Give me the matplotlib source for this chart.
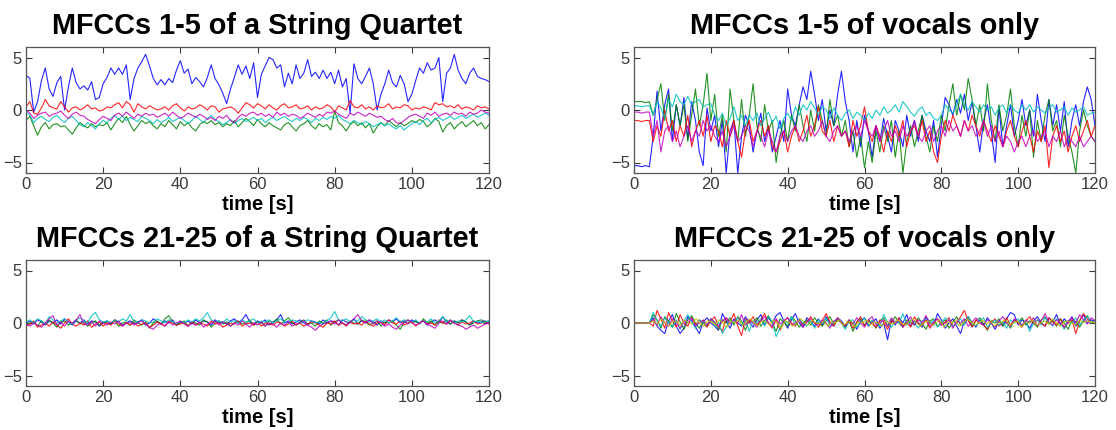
import numpy as np
import matplotlib
matplotlib.use("Agg")
import matplotlib.pyplot as plt

plt.rcParams['font.family'] = ['Liberation Sans', 'DejaVu Sans']

# ---------------- data (1 value per second, t = 0..120) ----------------
titles = ["MFCCs 1-5 of a String Quartet", "MFCCs 1-5 of vocals only",
          "MFCCs 21-25 of a String Quartet", "MFCCs 21-25 of vocals only"]
xlabel = "time [s]"
xticks = [0, 20, 40, 60, 80, 100, 120]
yticks = [-5, 0, 5]

sq15_blue = [3.3,3.0,-0.2,0.8,2.8,4.0,2.0,1.3,2.6,3.2,0.0,2.2,4.0,2.6,2.0,2.3,1.9,2.7,1.0,1.2,
             2.5,3.1,4.0,3.4,4.0,3.4,4.3,1.0,3.0,4.0,4.6,5.3,4.2,3.0,2.4,2.9,2.4,3.0,2.6,3.8,
             4.7,3.5,3.9,2.5,3.1,2.7,2.2,3.1,4.3,3.0,2.4,1.6,0.6,2.0,3.1,4.3,3.4,4.2,3.0,4.5,
             1.2,3.4,4.2,5.0,4.8,4.0,4.3,2.2,3.5,2.5,4.3,3.0,3.5,4.8,3.2,3.6,3.0,3.8,3.0,3.6,
             2.5,3.8,2.2,3.0,-0.3,4.4,3.0,2.5,3.2,4.0,2.5,0.0,1.5,2.5,3.8,2.6,2.2,3.3,2.5,0.8,
             1.5,2.8,4.0,3.5,4.5,3.8,4.0,5.0,0.8,3.5,4.0,5.3,3.8,3.0,2.5,3.5,4.0,3.2,3.0,2.9,2.7]
sq15_green = [-1.0,-0.6,-1.5,-2.4,-1.6,-1.2,-1.8,-1.4,-1.3,-1.6,-1.5,-1.9,-2.3,-1.7,-1.2,-1.5,-1.7,-1.3,-1.6,-1.4,
              -1.5,-1.2,-1.9,-1.3,-0.8,-1.2,-0.6,-1.4,-2.0,-1.5,-1.0,-1.3,-1.1,-1.5,-1.8,-1.3,-1.6,-1.0,-1.4,-1.8,
              -1.1,-1.5,-1.2,-1.7,-2.0,-1.4,-1.1,-1.3,-1.0,-1.4,-1.2,-1.6,-1.3,-1.5,-1.0,-1.6,-1.2,-0.8,-1.1,-1.5,
              -0.9,-1.3,-1.6,-1.2,-1.5,-1.7,-1.9,-1.4,-1.2,-1.6,-2.0,-1.5,-1.3,-1.0,-1.5,-1.8,-1.3,-1.6,-1.4,-1.9,
              -0.1,-1.2,-1.5,-2.0,-1.4,-1.1,-1.5,-1.2,-1.7,-1.3,-2.2,-1.6,-1.2,-1.5,-1.0,-1.3,-1.6,-1.2,-1.5,-1.3,
              -1.0,-1.2,-0.9,-1.1,-1.6,-1.3,-0.8,-1.1,-2.1,-1.5,-1.2,-1.8,-1.4,-1.1,-1.6,-1.3,-1.0,-1.5,-1.2,-1.8,-1.4]
sq15_red = [0.3,0.8,-0.3,-0.4,0.2,1.0,0.4,0.2,0.1,0.8,0.3,-0.2,0.2,0.3,0.0,0.2,0.5,0.1,0.2,-0.1,
            0.0,0.3,0.2,0.5,0.7,0.2,0.8,0.5,-0.2,0.6,0.3,0.1,0.4,0.2,0.0,0.1,0.3,0.0,0.4,0.6,
            0.2,-0.1,0.3,0.1,0.2,0.5,0.3,0.0,0.4,0.3,-0.2,0.1,0.2,0.3,0.1,-0.3,0.2,0.7,0.5,0.2,
            0.6,0.4,0.1,0.5,0.2,0.0,0.4,0.6,0.2,0.3,0.5,0.1,0.2,0.4,0.0,0.3,0.1,0.2,0.5,0.3,
            -0.2,0.4,0.2,0.0,0.9,0.3,0.2,0.5,0.1,0.3,0.0,0.4,0.2,0.3,0.6,0.1,0.3,0.2,0.5,0.4,
            0.0,0.2,0.1,0.3,0.2,0.0,0.7,0.5,0.6,0.3,0.4,0.2,0.5,0.1,0.3,0.2,0.0,0.4,0.2,0.3,0.1]
sq15_cyan = [-0.2,-0.5,-1.2,-0.8,-0.6,-0.9,-1.1,-0.7,-0.5,-0.9,-1.2,-0.8,-0.6,-1.0,-1.4,-1.6,-1.2,-1.5,-1.8,-1.3,
             -1.0,-1.2,-0.8,-0.5,-0.9,-0.6,-1.0,-0.7,-0.9,-1.1,-0.6,-0.8,-1.0,-1.3,-0.9,-1.2,-1.0,-0.7,-1.1,-0.9,
             -0.7,-1.0,-1.3,-1.0,-0.6,-0.9,-1.2,-0.8,-0.5,-0.9,-1.1,-1.4,-1.2,-0.9,-1.3,-1.0,-0.8,-1.1,-0.9,-0.7,
             -1.0,-0.8,-1.2,-0.9,-0.7,-1.0,-0.8,-0.6,-0.9,-1.1,-0.8,-1.0,-0.7,-0.9,-1.2,-0.8,-1.0,-0.7,-0.9,-0.6,
             -0.8,-0.5,-0.9,-1.1,-1.3,-1.0,-1.2,-1.4,-1.1,-1.3,-1.6,-1.4,-1.2,-1.5,-1.3,-1.6,-1.8,-1.5,-1.9,-1.6,
             -1.3,-1.1,-1.4,-1.0,-0.8,-1.2,-0.9,-0.7,-1.0,-0.8,-0.6,-0.9,-0.7,-0.5,-0.8,-0.6,-0.4,-0.7,-0.5,-0.3,-0.5]
sq15_magenta = [0.0,-0.3,-0.8,-0.5,-0.3,-0.2,-0.6,-0.4,-0.3,-0.1,-0.5,-0.8,-0.4,-0.2,-0.5,-0.6,-0.9,-1.1,-1.3,-0.9,
                -0.6,-0.8,-1.0,-0.5,-0.3,-0.6,-0.2,-0.5,-0.8,-0.4,-0.6,-0.3,-0.5,-0.4,-0.7,-0.5,-0.3,-0.6,-0.2,-0.5,
                -0.8,-0.6,-0.3,-0.5,-0.7,-0.4,-0.6,-0.9,-0.7,-1.0,-0.6,-0.8,-0.5,-1.0,-1.2,-0.7,-0.4,-0.6,-0.3,-0.2,
                -0.5,-0.3,-0.6,-0.4,-0.7,-0.2,-0.5,-0.3,-0.6,-0.4,-0.5,-0.8,-0.6,-0.3,-0.5,-0.7,-0.4,-0.6,-0.2,-0.3,
                -0.1,-0.4,-0.6,-0.8,-0.3,-0.5,-0.2,-0.4,-0.6,-0.3,-0.5,-0.7,-0.6,-0.9,-1.1,-0.8,-1.2,-1.3,-1.0,-0.7,
                -0.5,-0.4,-0.6,-0.8,-0.3,-0.5,-0.2,-0.6,-0.4,-0.3,-0.5,-0.2,-0.4,-0.3,-0.6,-0.2,-0.4,-0.3,0.0,-0.2,-0.3]

vo15_blue = [-5.3,-5.3,-5.4,-5.3,-5.4,-2.5,1.8,-2.0,0.5,2.0,-3.0,0.5,-1.5,1.2,-2.8,0.8,-1.0,-4.0,-5.3,0.2,
             -2.0,-0.5,-3.5,-1.0,-6.0,-2.0,-1.0,-6.0,-2.5,-0.5,-1.5,-4.0,-2.0,-0.3,-3.0,-1.5,-4.0,-2.5,-1.0,-3.0,
             2.0,-0.5,-1.5,0.5,2.2,1.0,3.7,1.5,-1.0,1.0,-2.0,0.0,-1.5,1.5,3.7,0.8,-1.0,-4.0,-1.0,-3.5,
             -0.5,-2.0,-4.5,-1.5,-3.0,-0.8,-2.5,-4.0,-1.0,-2.0,-3.5,-0.5,-2.5,-1.0,-3.0,-0.5,-2.0,-3.0,-1.0,-4.5,
             -1.5,1.2,0.5,-0.5,1.0,-0.3,1.5,-1.0,0.8,-1.5,-4.0,-1.0,0.5,-2.0,-5.0,0.3,-3.5,-1.5,0.5,-2.5,
             -1.0,1.0,-1.5,0.0,-2.5,1.5,-1.0,-3.0,1.0,-1.5,0.5,-2.0,0.8,-3.5,-1.0,0.5,-1.5,0.8,2.2,1.0,-1.5]
vo15_green = [0.8,0.8,0.8,0.7,0.8,-0.5,1.0,2.5,-1.0,1.5,-2.0,0.5,-1.5,0.5,-3.0,-0.5,2.0,-1.5,0.5,3.5,
              -1.0,1.5,-2.5,-0.5,-4.0,2.0,-1.0,-3.0,1.0,-2.5,-0.5,2.5,-1.5,-3.0,0.5,-2.0,-1.0,-5.0,-2.5,-1.0,
              -3.0,-0.5,-2.0,0.5,-1.5,-3.0,0.0,-2.0,0.5,-1.0,-2.5,1.0,-1.5,-0.5,-2.5,-1.0,-3.5,-2.0,-4.5,-2.5,
              -5.5,-3.0,-5.0,-2.0,-4.0,-1.5,-3.0,-1.0,-4.5,-2.0,-6.0,-3.0,-1.5,-3.5,-2.0,-0.5,-2.5,-4.0,-1.5,-3.0,
              -0.5,-2.0,0.5,2.5,-0.5,1.5,0.0,3.0,1.0,-1.5,0.5,-2.0,2.5,-1.0,-3.0,0.5,-2.0,-0.5,2.0,-1.5,
              -3.5,-0.5,-2.5,0.0,-4.5,-1.0,-3.0,-0.5,1.0,-2.0,-1.0,-3.5,-0.5,-2.5,-4.0,-6.0,-2.0,0.0,-1.5,-2.5,-3.0]
vo15_red = [-1.0,-1.0,-1.1,-1.0,-1.0,-3.0,-1.5,-2.5,0.0,-2.0,-1.0,-3.0,-1.5,-2.5,-0.5,-3.5,-2.0,-1.0,-2.5,-0.5,
            -3.0,-1.5,-2.0,-3.5,-1.0,-2.5,-1.0,-3.0,-4.5,-2.0,-1.0,-3.0,-2.0,-1.0,-2.5,-1.5,-3.5,-4.0,-3.0,-2.0,
            -4.0,-2.5,-1.5,-3.0,-2.0,-0.5,-2.5,-1.5,0.3,-2.0,-2.5,-1.0,-3.0,-1.5,-2.5,-2.0,-3.5,-1.0,-2.5,-1.5,
            0.3,-2.0,-3.0,-1.5,-2.5,-4.0,-2.0,-3.0,-1.5,-2.5,-1.0,-3.5,-2.0,-1.5,-2.5,-1.0,-3.0,-2.0,-4.0,-5.0,
            -2.5,-1.0,-2.0,-0.5,-1.5,-2.5,-1.0,-2.0,-0.5,-1.5,-2.5,-1.0,-2.0,-3.0,-1.5,-2.5,-3.5,-2.0,-1.0,-2.5,
            -3.5,-2.0,-1.0,-2.5,-4.0,-2.0,-3.0,-1.5,-5.5,-2.5,-1.5,-3.0,-2.0,-4.0,-2.5,-1.5,-3.0,-2.0,-1.0,-2.5,-1.5]
vo15_cyan = [0.4,0.4,0.3,0.4,0.4,-0.5,0.8,0.2,-0.8,1.0,0.3,1.5,0.8,0.5,1.3,0.5,0.8,1.0,0.3,0.5,
             0.6,-0.5,-1.0,-0.3,-1.5,-0.8,0.3,-1.0,-0.5,-1.5,-0.5,-1.0,-0.3,-1.5,-0.8,-0.2,-1.2,-0.6,-1.8,-0.8,
             -0.3,-1.0,0.3,-0.5,0.5,0.0,0.8,0.2,-0.5,0.3,0.0,-0.8,0.2,-0.5,-1.0,-0.3,0.0,-0.8,-0.2,-0.5,
             -1.0,-0.3,-0.8,0.0,-0.5,0.3,-0.3,0.0,0.5,-0.2,0.8,0.3,-0.2,-0.6,0.0,0.3,-0.5,-0.2,-0.8,-1.0,
             -0.5,0.5,0.0,-0.3,0.5,1.5,0.5,0.0,0.8,0.3,-0.2,0.5,0.0,0.3,-0.5,0.2,0.5,-0.3,0.5,0.0,
             -0.3,0.5,0.0,0.5,-0.2,0.3,0.0,-0.3,0.2,0.5,-0.2,0.0,0.3,-0.5,0.2,-0.2,0.0,0.3,-0.5,-0.3,-0.2]
vo15_magenta = [-0.2,-0.2,-0.3,-0.2,-0.2,-2.5,-1.0,-4.0,-2.0,-1.5,-3.0,-2.0,-3.5,-2.5,-1.5,-3.0,-2.0,-2.5,-1.0,-2.0,
                -1.5,-2.5,-3.0,-2.0,-3.5,-2.5,-1.5,-3.0,-2.5,-1.5,-2.0,-3.5,-2.0,-2.5,-3.5,-2.0,-3.0,-4.0,-2.5,-2.0,
                -3.0,-2.0,-1.5,-2.5,-3.0,-2.0,-1.5,-2.5,-2.0,-1.0,-2.5,-3.0,-2.0,-1.5,-2.5,-2.0,-3.0,-2.0,-1.5,-2.5,
                -1.0,-2.0,-2.5,-1.5,-3.0,-2.0,-1.0,-2.5,-2.0,-3.0,-1.5,-2.5,-2.0,-1.0,-2.5,-3.0,-2.0,-1.5,-3.0,-2.0,
                -1.5,-2.5,-1.0,-2.0,-1.5,-2.5,-1.0,-2.0,-1.5,-2.5,-2.0,-1.0,-2.5,-1.5,-3.0,-2.0,-3.5,-2.5,-3.0,-4.0,
                -3.0,-2.5,-3.5,-2.5,-2.0,-3.0,-2.5,-2.0,-3.5,-2.5,-3.0,-2.0,-3.5,-2.5,-3.0,-3.5,-2.5,-3.5,-3.0,-2.5,-3.0]

sq2125_blue = [0.0,0.2,-0.1,0.3,0.1,-0.2,0.2,0.0,0.3,-0.1,0.4,0.1,-0.2,0.2,0.0,0.3,-0.1,0.2,0.1,-0.3,
               0.0,0.2,-0.1,0.3,0.1,-0.2,0.0,0.2,-0.1,0.1,0.3,-0.2,0.0,0.4,0.1,-0.1,0.2,0.0,0.3,-0.2,
               0.1,0.0,0.2,-0.1,0.3,0.0,0.2,0.1,-0.2,0.3,0.0,0.1,-0.1,0.2,0.4,0.0,0.3,0.8,0.1,-0.1,
               0.2,0.0,0.3,-0.2,0.1,0.3,0.8,0.0,0.2,-0.1,0.1,0.3,0.0,-0.2,0.2,0.1,-0.1,0.3,0.0,0.2,
               0.1,-0.2,0.3,0.1,0.0,0.4,-0.1,0.2,0.0,0.3,0.1,-0.2,0.2,0.0,0.3,0.1,0.4,0.0,0.2,-0.1,
               0.3,0.1,0.0,0.2,-0.2,0.1,0.3,0.0,0.6,0.1,-0.1,0.2,0.0,0.3,0.1,-0.2,0.2,0.0,0.1,0.2,0.0]
sq2125_green = [-0.2,0.0,0.1,-0.3,0.2,-0.1,0.3,0.0,-0.4,0.1,0.2,-0.2,0.0,0.3,-0.1,0.1,-0.3,0.0,0.2,-0.2,
                0.1,0.0,-0.1,0.2,-0.3,0.0,0.1,-0.2,0.3,0.0,-0.2,0.1,-0.5,0.0,0.2,-0.1,0.4,0.7,0.1,-0.2,
                0.0,0.2,-0.3,0.1,0.0,-0.2,0.3,0.1,-0.4,0.0,0.2,-0.1,0.1,-0.3,0.0,0.2,-0.1,0.0,0.3,-0.2,
                0.1,0.0,-0.3,0.2,0.0,0.4,-0.1,0.2,0.5,0.0,-0.2,0.1,0.3,-0.1,0.0,-0.3,0.2,0.0,0.3,-0.2,
                0.1,0.3,0.0,-0.2,0.2,0.0,-0.1,0.3,0.1,-0.2,0.0,0.2,-0.3,0.1,0.0,0.2,-0.2,-0.6,0.1,0.3,
                0.0,0.2,-0.1,0.4,0.0,0.2,-0.2,0.1,0.0,0.3,-0.1,0.2,0.0,0.3,0.1,-0.2,0.0,0.2,0.3,0.1,0.2]
sq2125_red = [-0.3,-0.1,0.2,-0.4,-0.2,0.0,-0.3,0.1,-0.2,-0.5,0.0,0.4,-0.1,-0.3,0.0,-0.2,0.2,-0.4,-0.1,0.1,
              -0.3,0.0,-0.2,0.3,-0.1,-0.3,0.0,-0.2,0.1,-0.3,-0.1,0.0,-0.4,-0.2,0.1,-0.1,-0.3,0.2,0.0,-0.2,
              -0.1,0.0,-0.3,0.1,-0.2,0.0,-0.1,-0.3,0.2,-0.1,0.0,-0.4,-0.2,0.0,-0.1,0.2,-0.3,-0.1,0.0,-0.2,
              0.1,-0.3,0.0,-0.1,-0.2,0.1,0.0,-0.3,-0.1,0.2,-0.2,0.0,-0.3,-0.1,0.1,0.0,-0.2,-0.4,0.0,-0.1,
              0.2,-0.2,0.0,-0.3,0.1,-0.1,0.0,-0.2,0.2,-0.1,-0.3,0.0,0.1,-0.2,0.3,0.0,-0.1,0.2,-0.2,0.0,
              0.1,-0.3,0.0,0.2,-0.1,0.0,-0.2,0.3,0.0,-0.1,0.2,0.0,-0.2,0.1,-0.1,0.0,0.2,-0.1,0.0,0.1,-0.1]
sq2125_cyan = [0.1,0.3,0.0,0.4,0.2,-0.1,0.6,0.3,0.0,0.2,0.4,0.1,-0.1,0.3,0.5,0.2,0.0,0.7,1.0,0.3,
               0.1,0.2,0.0,0.3,0.1,0.4,0.2,0.8,0.1,0.0,0.3,0.2,0.0,0.1,0.4,0.2,0.0,0.3,0.1,-0.1,
               0.2,0.0,0.3,0.1,0.4,0.2,0.5,1.0,0.3,0.1,0.2,0.0,0.4,0.1,0.2,0.0,0.3,0.1,0.2,0.4,
               0.0,0.2,0.1,0.3,0.0,0.2,0.4,0.1,0.0,0.3,0.2,0.0,0.1,0.3,0.2,0.0,0.1,-0.1,0.2,0.5,
               1.1,0.3,0.2,0.4,0.1,0.3,0.2,0.6,0.3,0.1,0.2,0.4,0.1,0.3,0.0,0.2,0.5,0.1,0.3,0.2,
               0.1,0.3,0.0,0.2,0.1,0.4,0.0,0.2,0.6,0.1,0.3,0.0,0.2,0.1,0.3,0.7,0.1,0.2,0.0,0.1,0.2]
sq2125_magenta = [-0.1,-0.3,0.0,-0.2,-0.4,0.0,0.4,0.7,-0.2,0.1,-0.3,0.2,0.0,0.3,0.8,-0.1,-0.2,0.1,-0.3,0.2,
                  0.0,-0.2,0.1,-0.1,0.2,-0.3,0.0,0.1,-0.2,0.0,0.2,-0.1,-0.4,-0.6,-0.2,0.0,-0.3,0.1,-0.2,0.0,
                  0.2,-0.1,-0.3,0.0,-0.2,0.1,-0.4,-0.1,0.0,0.2,-0.2,0.1,-0.1,-0.3,0.0,-0.2,0.2,-0.1,-0.4,0.0,
                  -0.2,0.1,-0.3,0.0,-0.1,-0.4,0.0,-0.2,0.1,-0.3,-0.1,0.0,0.2,-0.2,-0.4,-0.7,-0.3,-0.1,0.0,0.2,
                  -0.1,0.3,0.0,-0.2,0.1,0.4,0.8,0.2,0.0,0.3,-0.1,0.2,0.0,-0.3,-0.1,-0.4,-0.6,-0.2,0.0,0.3,
                  0.1,-0.2,0.0,0.2,-0.1,-0.3,-0.5,0.0,0.2,-0.1,0.3,0.0,-0.2,-0.3,-0.6,-0.4,-0.2,-0.5,-0.3,-0.1,0.0]

vo2125_blue = [0,0,0,0,0.0,0.5,-0.3,-0.7,-1.0,0.2,0.8,-0.3,-1.0,-0.5,0.6,0.2,-0.4,-1.0,0.1,0.5,
               0.0,-0.3,-0.7,0.9,0.2,-0.5,0.4,0.0,-0.3,0.6,0.1,-0.4,0.3,0.8,-0.2,0.5,0.0,0.7,1.0,0.2,
               -0.5,0.3,0.9,0.0,-0.4,0.5,0.1,-0.3,0.4,-0.2,0.6,0.0,-0.3,0.5,0.2,-0.4,0.3,0.0,-0.6,0.2,
               0.5,-0.3,0.1,0.4,-0.5,0.0,-1.6,0.3,-0.2,0.5,0.0,0.8,-0.3,0.2,0.0,-0.4,0.6,0.1,-0.2,0.9,
               0.3,-0.5,0.0,0.4,-0.3,-1.0,0.2,0.6,0.0,-0.4,0.3,-0.2,0.5,0.0,-0.6,0.2,-0.3,0.4,1.0,0.8,
               -0.2,0.3,0.0,-0.5,0.2,0.6,0.0,-0.3,0.5,0.1,0.8,-0.2,0.4,0.0,0.6,-0.3,0.2,0.8,0.0,0.3,0.1]
vo2125_green = [0,0,0,0,0.0,0.8,0.3,-0.5,0.6,0.2,-0.4,0.9,0.1,-0.6,0.3,0.7,0.0,-0.5,0.2,-0.3,
                0.4,0.1,-0.6,0.3,0.0,0.5,-0.2,0.6,0.2,-0.7,0.3,0.0,0.5,-0.3,0.2,0.7,0.0,-0.8,0.4,0.1,
                -0.3,0.6,0.2,-0.4,0.0,0.3,-0.2,0.5,0.0,-0.3,0.2,0.6,-0.1,0.3,0.0,-0.4,0.2,-0.8,0.1,0.4,
                -0.2,0.3,0.0,-0.5,0.2,0.5,-0.3,0.1,0.6,0.0,-0.4,0.3,0.1,-0.2,0.5,0.0,-0.6,0.2,0.4,-0.3,
                0.0,0.3,-0.5,0.1,0.6,-0.2,0.0,0.4,-0.3,0.2,0.5,-0.1,-0.7,0.2,0.0,0.4,-0.3,0.1,-0.5,0.3,
                0.0,0.5,-0.2,0.2,0.0,-0.4,0.3,0.6,-0.1,0.2,-0.3,0.4,0.0,-0.6,0.3,0.1,-0.4,0.2,0.7,0.0,0.3]
vo2125_red = [0,0,0,0,0.0,-0.3,1.2,0.4,-0.5,1.0,0.2,-0.4,0.8,0.0,-0.3,0.5,-0.2,0.3,0.0,-0.4,
              0.2,0.6,-0.3,-0.8,0.5,0.1,0.9,-0.3,-1.2,0.4,0.0,0.6,-0.2,0.3,0.9,0.0,-0.5,0.3,-0.7,0.2,
              0.5,0.0,-0.3,0.4,-0.2,0.1,0.6,0.0,-0.4,0.2,0.9,0.1,-0.3,0.5,0.0,-0.2,0.3,-0.5,0.1,0.6,
              -0.3,0.2,0.0,-0.4,0.3,0.1,-0.6,0.2,0.0,0.5,-0.3,0.1,-0.4,0.6,0.0,-0.2,0.3,-0.5,0.0,0.4,
              -0.2,0.1,0.5,-0.3,0.0,0.6,1.2,0.2,-0.4,0.3,0.0,-0.2,-0.6,0.1,0.4,-0.3,0.0,0.5,-0.2,0.3,
              0.0,-0.4,0.2,0.6,-0.1,0.3,0.0,-0.3,0.5,0.1,-0.2,0.4,-0.5,0.0,0.3,-1.0,0.2,0.9,0.4,0.0,0.2]
vo2125_cyan = [0,0,0,0,0.0,1.0,0.2,-0.3,0.5,0.0,-0.4,0.3,-0.6,0.2,0.8,0.1,-0.5,0.3,0.0,-0.2,
               0.4,-0.3,0.1,-1.0,-0.4,0.3,0.0,0.5,-0.2,0.3,-0.8,0.2,0.0,0.4,-0.3,0.6,0.1,-1.3,-0.5,0.3,
               0.0,0.6,-0.2,0.4,0.0,-0.3,0.2,-0.5,0.3,0.0,0.5,-0.3,0.1,0.4,0.0,-0.6,0.2,0.3,-0.4,0.0,
               0.5,-0.2,0.3,0.0,-0.3,0.8,0.1,-0.4,0.2,0.0,0.9,-0.2,0.3,0.0,-0.5,0.2,0.4,-0.1,0.3,-0.4,
               0.0,0.5,0.2,-0.3,0.0,0.4,-0.2,0.6,0.0,-0.3,0.2,0.5,-0.4,0.0,0.3,-0.2,0.1,-0.5,0.3,0.0,
               0.4,-0.3,0.2,-0.8,0.0,0.3,-0.2,0.5,0.1,-0.3,0.4,0.0,-0.6,0.2,0.0,0.5,-0.2,0.3,0.6,0.0,0.2]
vo2125_magenta = [0,0,0,0,0.0,0.3,-0.2,0.6,0.0,-0.3,0.4,0.1,-0.5,0.2,0.0,0.5,-0.3,0.0,0.3,-0.2,
                  0.4,0.0,-0.3,0.2,0.5,-0.1,0.3,0.0,0.8,-0.2,0.3,0.0,-0.4,0.2,0.6,0.0,-0.3,0.4,-0.1,0.2,
                  0.5,-0.2,0.0,0.3,-0.4,0.1,0.4,0.0,-0.2,0.3,0.0,-0.5,0.2,0.4,0.0,-0.3,0.2,-0.1,0.5,0.0,
                  -0.4,0.3,0.6,-0.2,0.0,0.3,-0.3,0.5,0.0,0.2,-0.4,0.0,0.6,-0.2,0.3,0.0,0.7,-0.3,0.1,0.4,
                  -0.2,0.0,0.3,-0.5,0.2,0.0,0.4,-0.3,0.1,0.5,0.0,-0.2,0.3,0.0,-0.4,0.2,0.6,0.0,-0.3,0.4,
                  0.1,-0.2,0.3,0.0,0.5,-0.3,0.2,0.9,0.1,-0.2,0.3,0.0,-0.4,0.2,0.5,0.0,0.8,0.3,-0.1,0.5,0.2]
vo2125_yellow = [0,0,0,0,0.0,0.2,-0.1,0.4,0.0,-0.3,0.2,0.1,-0.2,0.3,0.0,-0.1,0.4,0.0,-0.3,0.2,
                 0.1,-0.2,0.3,0.0,-0.4,0.2,0.0,0.3,-0.2,0.1,0.4,0.0,-0.3,0.2,0.1,-0.2,0.3,0.0,-0.5,0.2,
                 0.1,-0.3,0.0,0.4,0.1,-0.2,0.3,0.0,-0.1,0.2,-0.3,0.1,0.0,0.3,-0.2,0.0,0.2,-0.4,0.1,0.0,
                 0.3,-0.2,0.1,0.0,-0.3,0.2,0.0,-0.1,0.3,0.0,-0.2,0.1,0.4,0.0,-0.3,0.1,0.2,-0.2,0.0,0.3,
                 -0.4,0.1,0.0,0.2,-0.3,0.0,0.4,0.1,-0.2,0.0,0.3,-0.1,0.2,-0.3,0.0,0.1,0.3,-0.2,0.0,0.2,
                 -0.4,0.1,0.0,0.3,-0.2,0.0,0.2,-0.1,0.4,0.0,-0.3,0.1,0.2,0.0,-0.2,0.3,0.0,0.2,0.1,0.0]

# MATLAB default colour order
C_B, C_G, C_R, C_C, C_M, C_Y = "#0000ff", "#008000", "#ff0000", "#00bfbf", "#bf00bf", "#bfbf00"

panels = [
    [(sq15_blue, C_B), (sq15_green, C_G), (sq15_red, C_R), (sq15_cyan, C_C), (sq15_magenta, C_M)],
    [(vo15_blue, C_B), (vo15_green, C_G), (vo15_red, C_R), (vo15_cyan, C_C), (vo15_magenta, C_M)],
    [(sq2125_blue, C_B), (sq2125_green, C_G), (sq2125_red, C_R), (sq2125_cyan, C_C), (sq2125_magenta, C_M)],
    [(vo2125_blue, C_B), (vo2125_green, C_G), (vo2125_red, C_R), (vo2125_cyan, C_C),
     (vo2125_magenta, C_M), (vo2125_yellow, C_Y)],
]

W, H = 1116, 430
fig = plt.figure(figsize=(W / 100, H / 100), dpi=100)

rects_px = [(26, 47, 489, 173), (634, 47, 1095, 173),
            (26, 260, 489, 386), (634, 260, 1095, 386)]

for i, (series, (x0, y0, x1, y1)) in enumerate(zip(panels, rects_px)):
    ax = fig.add_axes([x0 / W, 1 - y1 / H, (x1 - x0) / W, (y1 - y0) / H])
    for y, col in series:
        x = np.linspace(0, 120, len(y))
        ax.plot(x, y, color=col, lw=0.8, alpha=0.85)
    ax.set_xlim(0, 120)
    ax.set_ylim(-6, 6)
    ax.set_xticks(xticks)
    ax.set_yticks(yticks)
    ax.tick_params(direction="in", length=4, width=0.8, top=True, right=True,
                   labelsize=12, colors="#3a3a3a", pad=3)
    for s in ax.spines.values():
        s.set_color("#555555")
        s.set_linewidth(0.9)
    ax.set_title(titles[i], fontsize=20.8, fontweight="bold", pad=9)
    ax.set_xlabel(xlabel, fontsize=14.5, fontweight="bold", labelpad=2)

fig.savefig("out.png", dpi=100)
